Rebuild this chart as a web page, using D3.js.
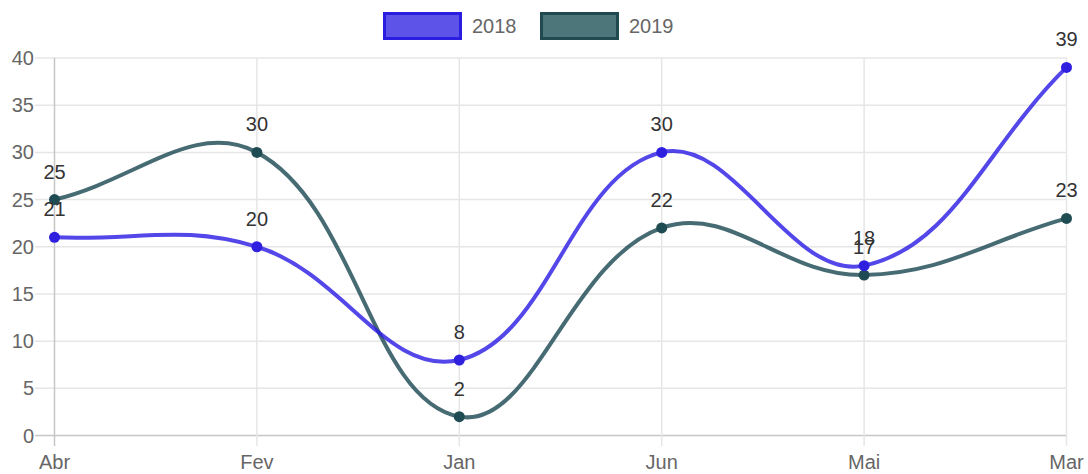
<!DOCTYPE html>
<html><head><meta charset="utf-8">
<script src="https://cdn.jsdelivr.net/npm/d3@7"></script>
<style>body{margin:0;background:#fff}svg{display:block}</style>
</head><body>
<svg id="c" width="1088" height="474"></svg>
<script>
const categories = ["Abr", "Fev", "Jan", "Jun", "Mai", "Mar"];
const series2018 = [21, 20, 8, 30, 18, 39];
const series2019 = [25, 30, 2, 22, 17, 23];
const yTicks = [0, 5, 10, 15, 20, 25, 30, 35, 40];
const seriesNames = ["2018", "2019"];

const FONT = "'Liberation Sans', Arial, sans-serif";
const FS = 20;
const svg = d3.select("#c");
const x = d3.scalePoint().domain(categories).range([54.5, 1066.5]);
const y = d3.scaleLinear().domain([0, 40]).range([435.5, 58]);

const series = [
  {name: seriesNames[0], values: series2018, line: "rgba(40,25,228,0.8)", point: "#2f20e0", fill: "rgba(40,25,225,0.75)", border: "#2a1de0"},
  {name: seriesNames[1], values: series2019, line: "rgba(25,70,80,0.8)", point: "#1f4b52", fill: "rgba(25,80,85,0.78)", border: "#1e4a50"}
];

// grid
const g = svg.append("g");
g.selectAll(".hg").data(yTicks).join("line")
  .attr("x1", 35).attr("x2", 1067)
  .attr("y1", d => y(d)).attr("y2", d => y(d))
  .attr("stroke", d => d === 0 ? "#c6c6c6" : "#e6e6e6").attr("stroke-width", 1.5);
g.selectAll(".vg").data(categories).join("line")
  .attr("x1", d => x(d)).attr("x2", d => x(d))
  .attr("y1", 58).attr("y2", 446)
  .attr("stroke", (d, i) => i === 0 ? "#c6c6c6" : "#e6e6e6").attr("stroke-width", 1.5);

// y tick labels
g.selectAll(".yl").data(yTicks).join("text")
  .attr("x", 34).attr("y", d => y(d)).attr("dy", "0.35em")
  .attr("text-anchor", "end").attr("font-family", FONT).attr("font-size", FS)
  .attr("fill", "#666").text(d => d);
// x tick labels
g.selectAll(".xl").data(categories).join("text")
  .attr("x", d => x(d)).attr("y", 469)
  .attr("text-anchor", "middle").attr("font-family", FONT).attr("font-size", FS)
  .attr("fill", "#666").text(d => d);

// Chart.js-style spline curve
function ChartJsCurve(context) { this._context = context; }
ChartJsCurve.prototype = {
  areaStart() {}, areaEnd() {},
  lineStart() { this._pts = []; },
  point(px, py) { this._pts.push([+px, +py]); },
  lineEnd() {
    const p = this._pts, t = 0.4, n = p.length, ctx = this._context;
    const cps = p.map((cur, i) => {
      const prev = p[i - 1] || cur, next = p[i + 1] || cur;
      const d01 = Math.hypot(cur[0] - prev[0], cur[1] - prev[1]);
      const d12 = Math.hypot(next[0] - cur[0], next[1] - cur[1]);
      let s01 = d01 / (d01 + d12), s12 = d12 / (d01 + d12);
      if (isNaN(s01)) s01 = 0; if (isNaN(s12)) s12 = 0;
      const fa = t * s01, fb = t * s12;
      return {
        prev: [cur[0] - fa * (next[0] - prev[0]), cur[1] - fa * (next[1] - prev[1])],
        next: [cur[0] + fb * (next[0] - prev[0]), cur[1] + fb * (next[1] - prev[1])]
      };
    });
    ctx.moveTo(p[0][0], p[0][1]);
    for (let i = 1; i < n; i++) {
      const a = cps[i - 1].next, b = cps[i].prev;
      ctx.bezierCurveTo(a[0], a[1], b[0], b[1], p[i][0], p[i][1]);
    }
  }
};
const chartCurve = ctx => new ChartJsCurve(ctx);

const line = d3.line().x((d, i) => x(categories[i])).y(d => y(d)).curve(chartCurve);

[...series].reverse().forEach(s => {
  svg.append("path").attr("d", line(s.values)).attr("fill", "none")
    .attr("stroke", s.line).attr("stroke-width", 4);
});
[...series].reverse().forEach(s => {
  svg.append("g").selectAll("circle").data(s.values).join("circle")
    .attr("cx", (d, i) => x(categories[i])).attr("cy", d => y(d)).attr("r", 5.5)
    .attr("fill", s.point);
});
// data labels
series.forEach(s => {
  svg.append("g").selectAll("text").data(s.values).join("text")
    .attr("x", (d, i) => x(categories[i])).attr("y", d => y(d) - 21)
    .attr("text-anchor", "middle").attr("font-family", FONT).attr("font-size", FS)
    .attr("fill", "#333").text(d => d);
});

// legend
const legendX = [383, 540];
series.forEach((s, i) => {
  const lg = svg.append("g");
  lg.append("rect").attr("x", legendX[i] + 1.5).attr("y", 13.5).attr("width", 76).attr("height", 25)
    .attr("fill", s.fill).attr("stroke", s.border).attr("stroke-width", 3);
  lg.append("text").attr("x", legendX[i] + 89).attr("y", 26).attr("dy", "0.35em")
    .attr("font-family", FONT).attr("font-size", FS).attr("fill", "#666").text(s.name);
});
</script>
</body></html>
